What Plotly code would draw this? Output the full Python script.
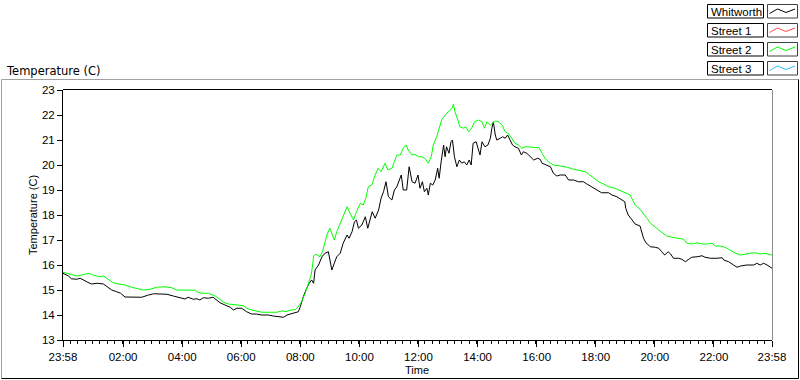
import plotly.graph_objects as go
from datetime import datetime, timedelta

START_DAY = "2013-01-01"

# ---------------- data ----------------
whitworth_time = [
    "23:58", "00:02", "00:09", "00:15", "00:26", "00:33", "00:39", "00:47", "00:56", "01:08",
    "01:20", "01:28", "01:37", "01:47", "01:55", "02:04", "02:21", "02:38", "02:50", "03:02",
    "03:15", "03:29", "03:42", "03:52", "04:01", "04:06", "04:12", "04:23", "04:30", "04:36",
    "04:43", "04:53", "05:03", "05:10", "05:17", "05:27", "05:38", "05:44", "05:51", "06:01",
    "06:11", "06:21", "06:31", "06:42", "06:55", "07:05", "07:15", "07:26", "07:33", "07:42",
    "07:49", "07:56", "08:00", "08:03", "08:06", "08:13", "08:18", "08:23", "08:27", "08:30",
    "08:37", "08:44", "08:50", "08:57", "09:00", "09:04", "09:09", "09:14", "09:21", "09:27",
    "09:35", "09:39", "09:45", "09:50", "09:54", "09:58", "10:05", "10:12", "10:17", "10:22",
    "10:26", "10:32", "10:39", "10:44", "10:49", "10:54", "10:59", "11:06", "11:11", "11:16",
    "11:21", "11:25", "11:29", "11:36", "11:41", "11:47", "11:53", "11:59", "12:03", "12:08",
    "12:12", "12:17", "12:20", "12:24", "12:29", "12:34", "12:39", "12:42", "12:46", "12:51",
    "12:54", "12:57", "13:02", "13:06", "13:09", "13:13", "13:18", "13:23", "13:28", "13:33",
    "13:38", "13:43", "13:47", "13:51", "13:57", "14:00", "14:05", "14:09", "14:15", "14:21",
    "14:26", "14:29", "14:32", "14:36", "14:39", "14:46", "14:51", "14:56", "15:01", "15:06",
    "15:11", "15:16", "15:23", "15:29", "15:33", "15:40", "15:47", "15:54", "16:02", "16:07",
    "16:11", "16:21", "16:28", "16:34", "16:41", "16:48", "16:58", "17:05", "17:15", "17:25",
    "17:35", "17:42", "17:52", "18:02", "18:12", "18:26", "18:33", "18:43", "18:52", "18:59",
    "19:01", "19:06", "19:14", "19:20", "19:30", "19:34", "19:37", "19:42", "19:51", "20:01",
    "20:08", "20:14", "20:20", "20:27", "20:32", "20:38", "20:48", "20:55", "21:02", "21:09",
    "21:15", "21:26", "21:36", "21:42", "21:53", "22:06", "22:17", "22:20", "22:30", "22:40",
    "22:47", "22:54", "23:07", "23:21", "23:27", "23:34", "23:41", "23:48", "23:54", "23:58",
]
whitworth_temp = [
    15.67, 15.64, 15.56, 15.45, 15.43, 15.47, 15.40, 15.32, 15.24, 15.27,
    15.24, 15.13, 15.00, 14.93, 14.87, 14.72, 14.71, 14.71, 14.79, 14.85,
    14.84, 14.83, 14.76, 14.71, 14.65, 14.64, 14.71, 14.63, 14.65, 14.60,
    14.69, 14.67, 14.71, 14.60, 14.49, 14.40, 14.31, 14.20, 14.27, 14.27,
    14.13, 14.04, 14.04, 14.00, 14.00, 13.96, 13.93, 13.91, 14.00, 14.04,
    14.09, 14.13, 14.33, 14.60, 14.73, 15.07, 15.27, 15.40, 15.27, 15.80,
    16.00, 16.33, 16.47, 16.53, 16.27, 15.80, 16.07, 16.33, 16.47, 16.87,
    17.20, 17.07, 17.33, 17.73, 17.80, 17.47, 17.60, 17.93, 17.47, 17.80,
    18.13, 17.87, 18.20, 18.67, 18.93, 19.33, 18.73, 18.60, 19.00, 19.13,
    19.40, 19.60, 19.00, 19.00, 19.93, 19.33, 19.27, 19.60, 19.07, 19.33,
    18.93, 19.07, 18.80, 19.27, 19.20, 19.40, 19.87, 19.47, 20.13, 20.80,
    20.33, 20.73, 20.47, 20.93, 21.00, 20.33, 19.93, 20.20, 20.07, 20.13,
    20.00, 20.20, 20.00, 20.87, 20.93, 20.73, 20.40, 20.93, 20.73, 20.80,
    21.07, 21.47, 21.73, 21.20, 21.00, 21.07, 21.13, 21.07, 21.20, 21.00,
    20.80, 20.73, 20.67, 20.40, 20.53, 20.47, 20.33, 20.20, 20.27, 20.23,
    20.07, 20.00, 19.93, 19.67, 19.56, 19.60, 19.60, 19.40, 19.40, 19.33,
    19.33, 19.24, 19.13, 19.00, 18.89, 18.89, 18.80, 18.73, 18.63, 18.53,
    18.27, 18.00, 17.80, 17.64, 17.56, 17.33, 17.07, 16.89, 16.73, 16.71,
    16.67, 16.53, 16.40, 16.53, 16.44, 16.27, 16.27, 16.23, 16.13, 16.23,
    16.31, 16.33, 16.37, 16.31, 16.27, 16.27, 16.29, 16.20, 16.13, 16.00,
    15.91, 15.96, 16.00, 16.00, 16.07, 16.00, 16.07, 16.00, 15.91, 15.87,
]

street2_time = [
    "23:58", "00:06", "00:15", "00:26", "00:36", "00:51", "01:00", "01:13", "01:20", "01:30",
    "01:40", "01:50", "02:04", "02:18", "02:31", "02:41", "02:55", "03:08", "03:25", "03:39",
    "03:49", "04:06", "04:27", "04:32", "04:40", "04:53", "05:07", "05:14", "05:24", "05:34",
    "05:47", "06:05", "06:11", "06:21", "06:42", "07:02", "07:12", "07:24", "07:29", "07:42",
    "07:50", "07:56", "08:03", "08:10", "08:17", "08:22", "08:25", "08:27", "08:31", "08:40",
    "08:45", "08:50", "08:54", "09:00", "09:04", "09:09", "09:14", "09:21", "09:27", "09:35",
    "09:41", "09:48", "09:54", "10:02", "10:08", "10:13", "10:18", "10:25", "10:32", "10:38",
    "10:44", "10:52", "10:58", "11:06", "11:11", "11:16", "11:23", "11:29", "11:35", "11:39",
    "11:47", "11:53", "12:00", "12:07", "12:14", "12:20", "12:26", "12:30", "12:37", "12:42",
    "12:47", "12:54", "13:01", "13:08", "13:11", "13:14", "13:20", "13:24", "13:32", "13:36",
    "13:42", "13:48", "13:54", "14:02", "14:09", "14:14", "14:19", "14:26", "14:36", "14:42",
    "14:50", "14:56", "15:04", "15:09", "15:16", "15:23", "15:30", "15:37", "15:47", "15:57",
    "16:05", "16:11", "16:17", "16:24", "16:34", "16:48", "17:02", "17:15", "17:29", "17:39",
    "17:45", "17:56", "18:06", "18:16", "18:26", "18:39", "18:50", "19:00", "19:10", "19:15",
    "19:20", "19:30", "19:37", "19:44", "19:51", "19:57", "20:04", "20:08", "20:18", "20:24",
    "20:35", "20:48", "20:59", "21:05", "21:15", "21:26", "21:36", "21:46", "21:56", "22:03",
    "22:13", "22:23", "22:33", "22:44", "22:54", "23:03", "23:13", "23:24", "23:34", "23:44",
    "23:54", "23:58",
]
street2_temp = [
    15.71, 15.67, 15.60, 15.56, 15.60, 15.67, 15.59, 15.53, 15.56, 15.44,
    15.29, 15.24, 15.20, 15.11, 15.04, 15.00, 15.03, 15.11, 15.13, 15.09,
    15.00, 15.00, 14.99, 14.91, 14.87, 14.87, 14.76, 14.67, 14.51, 14.44,
    14.40, 14.37, 14.27, 14.20, 14.11, 14.11, 14.11, 14.17, 14.13, 14.20,
    14.22, 14.33, 14.55, 14.87, 15.25, 15.60, 16.00, 16.36, 16.44, 16.33,
    16.53, 16.87, 17.20, 17.47, 17.27, 17.00, 17.33, 17.67, 17.93, 18.33,
    18.07, 17.80, 18.13, 18.47, 18.40, 18.67, 19.13, 19.20, 19.60, 19.87,
    19.73, 20.07, 19.80, 19.87, 20.13, 20.40, 20.40, 20.67, 20.80, 20.60,
    20.40, 20.42, 20.33, 20.33, 20.25, 20.07, 20.33, 20.80, 21.13, 21.47,
    21.80, 22.00, 22.13, 22.27, 22.43, 22.13, 21.80, 21.53, 21.47, 21.53,
    21.33, 21.47, 21.73, 21.80, 21.73, 21.47, 21.73, 21.60, 21.76, 21.73,
    21.60, 21.33, 21.23, 21.07, 20.87, 20.80, 20.67, 20.73, 20.71, 20.69,
    20.69, 20.47, 20.27, 20.13, 20.00, 19.96, 19.91, 19.83, 19.77, 19.73,
    19.64, 19.47, 19.33, 19.24, 19.13, 19.07, 18.97, 18.89, 18.80, 18.60,
    18.40, 18.23, 18.07, 17.87, 17.67, 17.56, 17.47, 17.40, 17.27, 17.16,
    17.11, 17.07, 17.03, 16.87, 16.84, 16.89, 16.84, 16.84, 16.87, 16.76,
    16.76, 16.71, 16.60, 16.47, 16.40, 16.44, 16.47, 16.49, 16.44, 16.47,
    16.40, 16.40,
]

x_tick_labels = ["23:58", "02:00", "04:00", "06:00", "08:00", "10:00", "12:00",
                 "14:00", "16:00", "18:00", "20:00", "22:00", "23:58"]
y_tick_values = [13, 14, 15, 16, 17, 18, 19, 20, 21, 22, 23]

legend_names = ["Whitworth", "Street 1", "Street 2", "Street 3"]
legend_colors = ["#000000", "#ff4a4a", "#00ff00", "#33bbff"]

FONT = "Liberation Sans"
TITLE_FONT = "DejaVu Sans"


def to_datetimes(times):
    day = datetime.strptime(START_DAY, "%Y-%m-%d")
    out, prev = [], None
    for t in times:
        hh, mm = map(int, t.split(":"))
        m = hh * 60 + mm
        if prev is not None and m < prev:
            day += timedelta(days=1)
        prev = m
        out.append(day + timedelta(minutes=m))
    return out


x_tick_vals = to_datetimes(x_tick_labels)

fig = go.Figure()
fig.add_trace(go.Scatter(x=to_datetimes(whitworth_time), y=whitworth_temp, mode="lines",
                         line=dict(color=legend_colors[0], width=1), name=legend_names[0],
                         showlegend=False))
fig.add_trace(go.Scatter(x=to_datetimes(street2_time), y=street2_temp, mode="lines",
                         line=dict(color=legend_colors[2], width=1), name=legend_names[2],
                         showlegend=False))

# --- pixel helpers for decorations (plot area: x 63..772, y 90..340) ---
L, R, T, B = 63, 772, 90, 340
W, H = 800, 380


def px(x):
    return (x - L) / (R - L)


def py(y):
    return (B - y) / (B - T)


shapes = []


def line(x0, y0, x1, y1, color, width=1):
    shapes.append(dict(type="line", xref="paper", yref="paper",
                       x0=px(x0), y0=py(y0), x1=px(x1), y1=py(y1),
                       line=dict(color=color, width=width), layer="above"))


# outer panel frame
line(1.5, 79.5, 798.5, 79.5, "#a0a0a0")
line(1.5, 79.5, 1.5, 378.5, "#a0a0a0")
line(1.5, 378.5, 798.5, 378.5, "#000000")
line(798.5, 79.5, 798.5, 378.5, "#000000")
# plot area frame (top black, right gray)
line(L, T - 0.5, R, T - 0.5, "#000000")
line(R + 0.5, T, R + 0.5, B, "#8c8c8c")

annotations = []

# custom legend (name box + sample box)
for i, (name, col) in enumerate(zip(legend_names, legend_colors)):
    top = 4.5 + 19 * i
    bot = top + 13.5
    shapes.append(dict(type="rect", xref="paper", yref="paper",
                       x0=px(707.5), x1=px(763.5), y0=py(bot), y1=py(top),
                       line=dict(color="#000000", width=1), fillcolor="white"))
    shapes.append(dict(type="rect", xref="paper", yref="paper",
                       x0=px(767.5), x1=px(797.5), y0=py(bot), y1=py(top),
                       line=dict(color="#404040", width=1), fillcolor="white"))
    pts = [(769.5, top + 9), (777.5, top + 4.5), (786, top + 8), (795, top + 4.5)]
    path = "M " + " L ".join(f"{px(a)},{py(b)}" for a, b in pts)
    shapes.append(dict(type="path", xref="paper", yref="paper", path=path,
                       line=dict(color=col, width=1)))
    annotations.append(dict(xref="paper", yref="paper", x=px(709), y=py((top + bot) / 2 + 0.5),
                            text=name, showarrow=False, xanchor="left", yanchor="middle",
                            font=dict(family=FONT, size=11.5, color="black")))

annotations.append(dict(xref="paper", yref="paper", x=px(4), y=py(71),
                        text="Temperature (C)", showarrow=False, xanchor="left",
                        yanchor="middle", font=dict(family=TITLE_FONT, size=11.5, color="black")))
annotations.append(dict(xref="paper", yref="paper", x=px(33), y=py(215),
                        text="Temperature (C)", showarrow=False, textangle=-90,
                        xanchor="center", yanchor="middle",
                        font=dict(family=FONT, size=11, color="black")))
annotations.append(dict(xref="paper", yref="paper", x=px(417), y=py(370),
                        text="Time", showarrow=False, xanchor="center", yanchor="middle",
                        font=dict(family=FONT, size=11, color="black")))

fig.update_layout(
    width=W, height=H,
    margin=dict(l=L, r=W - R, t=T, b=H - B, pad=0),
    paper_bgcolor="white", plot_bgcolor="white",
    font=dict(family=FONT, size=11, color="black"),
    showlegend=False,
    shapes=shapes,
    annotations=annotations,
    xaxis=dict(
        type="date",
        range=[x_tick_vals[0], x_tick_vals[-1]],
        tickmode="array", tickvals=x_tick_vals, ticktext=x_tick_labels,
        ticks="outside", ticklen=6, tickcolor="black", tickwidth=1,
        showgrid=False, zeroline=False,
        showline=True, linecolor="#000000", linewidth=1,
        tickfont=dict(family=FONT, size=11.5, color="black"),
        minor=dict(ticks="outside", ticklen=3, tickcolor="black",
                   tick0=x_tick_vals[0], dtick=15 * 60 * 1000, showgrid=False),
        fixedrange=True,
    ),
    yaxis=dict(
        range=[13, 23],
        tickmode="array", tickvals=y_tick_values,
        ticks="outside", ticklen=5, tickcolor="black", tickwidth=1,
        showgrid=False, zeroline=False,
        showline=True, linecolor="#000000", linewidth=1,
        tickfont=dict(family=FONT, size=11.5, color="black"),
        fixedrange=True,
    ),
)

fig.write_html("out.html", config={"displayModeBar": False},
               post_script="document.body.style.margin='0px';")
